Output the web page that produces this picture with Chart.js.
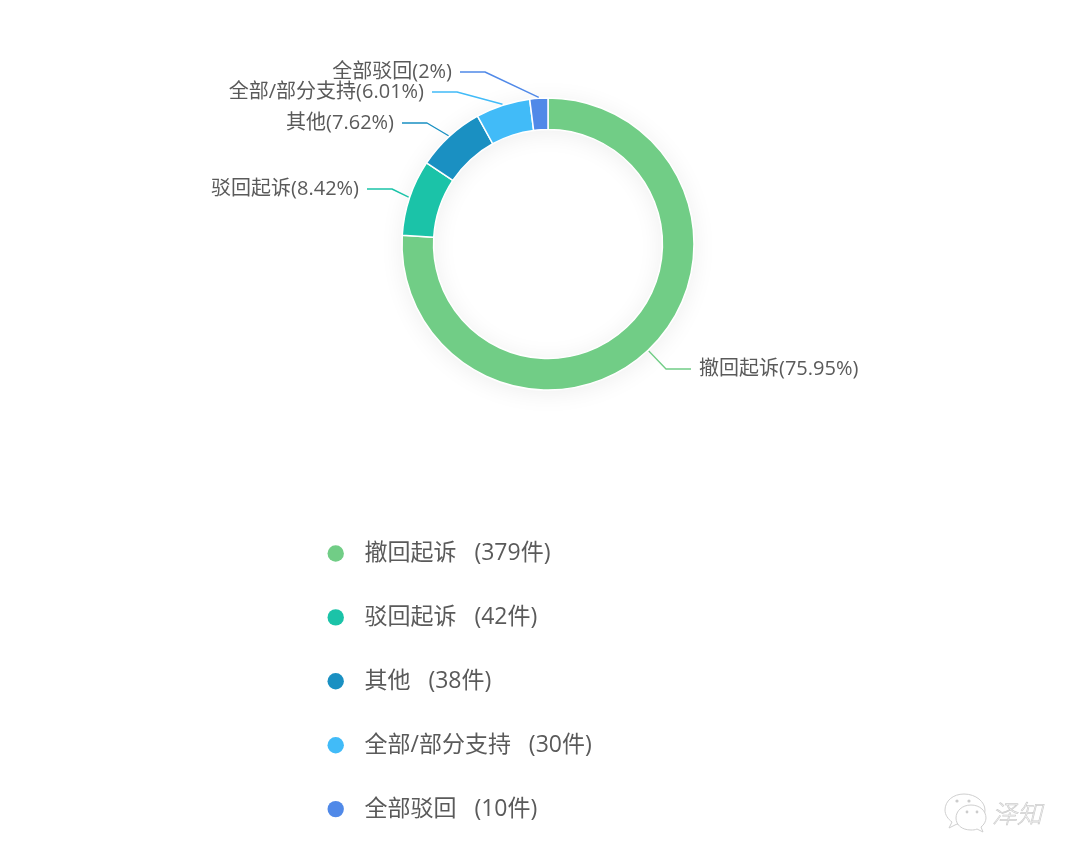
<!DOCTYPE html>
<html><head><meta charset="utf-8">
<style>
html,body{margin:0;padding:0;background:#fff;width:1080px;height:861px;overflow:hidden}
#w{position:relative;width:1080px;height:861px}
canvas{position:absolute;left:0;top:0}
svg{position:absolute;left:940px;top:790px}
</style>
<script src="https://cdn.jsdelivr.net/npm/chart.js@4"></script>
</head><body><div id="w"><canvas id="c" width="1080" height="861"></canvas>
<svg width="110" height="45" viewBox="0 0 110 45">
<g fill="#fff" stroke="#cfcfcf" stroke-width="1">
<path d="M24 4C13 4 5 11 5 20c0 5 3 9 7 12l-3 6 8-4c3 1 6 1 9 1 12 0 19-7 19-15S36 4 24 4z"/>
<path d="M31 15c-9 0-15 6-15 13s6 12 15 12c2 0 4 0 6-1l6 3-2-5c3-2 5-6 5-9 0-7-6-13-15-13z"/>
</g>
<g fill="#cccccc"><circle cx="17" cy="11" r="1.6"/><circle cx="29" cy="11" r="1.6"/><circle cx="27" cy="22" r="1.4"/><circle cx="37" cy="22" r="1.4"/></g>
<text x="52" y="33" font-family="Noto Sans CJK SC" font-weight="300" font-style="italic" font-size="25" fill="#fff" stroke="#cdcdcd" stroke-width="0.7">泽知</text>
</svg></div>
<script>
const categories = ['撤回起诉','驳回起诉','其他','全部/部分支持','全部驳回'];
const counts = [379,42,38,30,10];
const percentLabels = ['75.95%','8.42%','7.62%','6.01%','2%'];
const colors = ['#71CD86','#1BC3A8','#1A90C2','#41BBF8','#5089E8'];
// callout elbow offsets from the ring centre
const elbowDx = [118,-156,-121,-91,-63];
const elbowDy = [125,-55,-121,-152,-172];
const FONT = '"Open Sans","Noto Sans CJK SC",sans-serif';
const TEXT = '#5a5a5a';

const ringShadow = {
  id:'ringShadow',
  beforeDatasetsDraw(chart){
    const a = chart.getDatasetMeta(0).data[0]; if(!a) return;
    const {x,y,innerRadius:i,outerRadius:o} = a.getProps(['x','y','innerRadius','outerRadius'],true);
    const c = chart.ctx; c.save();
    c.shadowColor='rgba(0,0,0,0.07)'; c.shadowBlur=24; c.shadowOffsetY=3;
    c.strokeStyle='#fff'; c.lineWidth=o-i;
    c.beginPath(); c.arc(x,y,(o+i)/2,0,Math.PI*2); c.stroke(); c.restore();
  }
};
const callouts = {
  id:'callouts',
  afterDatasetsDraw(chart){
    const c = chart.ctx, arcs = chart.getDatasetMeta(0).data;
    arcs.forEach((arc,k)=>{
      const p = arc.getProps(['x','y','startAngle','endAngle','outerRadius'],true);
      const m = (p.startAngle+p.endAngle)/2;
      const sx = p.x+Math.cos(m)*(p.outerRadius+1), sy = p.y+Math.sin(m)*(p.outerRadius+1);
      const ex = p.x+elbowDx[k], ey = p.y+elbowDy[k];
      const dir = elbowDx[k]>0?1:-1, hx = ex+dir*25;
      c.save();
      c.strokeStyle=colors[k]; c.lineWidth=1.4; c.lineJoin='round';
      c.beginPath(); c.moveTo(sx,sy); c.lineTo(ex,ey); c.lineTo(hx,ey); c.stroke();
      c.fillStyle=TEXT; c.font='20px '+FONT; c.textBaseline='middle';
      c.textAlign=dir>0?'left':'right';
      c.fillText(categories[k]+'('+percentLabels[k]+')',hx+dir*8,ey+0.5);
      c.restore();
    });
  }
};
const sideLegend = {
  id:'sideLegend',
  afterDraw(chart){
    const c = chart.ctx; c.save();
    categories.forEach((name,k)=>{
      const y = 553.5+k*63.9;
      c.fillStyle=colors[k]; c.beginPath(); c.arc(335.7,y,8.2,0,Math.PI*2); c.fill();
      c.fillStyle=TEXT; c.font='23px '+FONT; c.textBaseline='middle'; c.textAlign='left';
      c.fillText(name+'   ('+counts[k]+'件)',364.5,y);
    });
    c.restore();
  }
};
new Chart(document.getElementById('c'),{
  type:'doughnut',
  data:{labels:categories,datasets:[{data:counts,backgroundColor:colors,borderColor:'#fff',borderWidth:1.5}]},
  options:{
    responsive:false,animation:false,
    radius:146,cutout:'78.4%',
    layout:{padding:{left:398,right:382,top:94,bottom:467}},
    plugins:{legend:{display:false},tooltip:{enabled:false}}
  },
  plugins:[ringShadow,callouts,sideLegend]
});
</script></body></html>
